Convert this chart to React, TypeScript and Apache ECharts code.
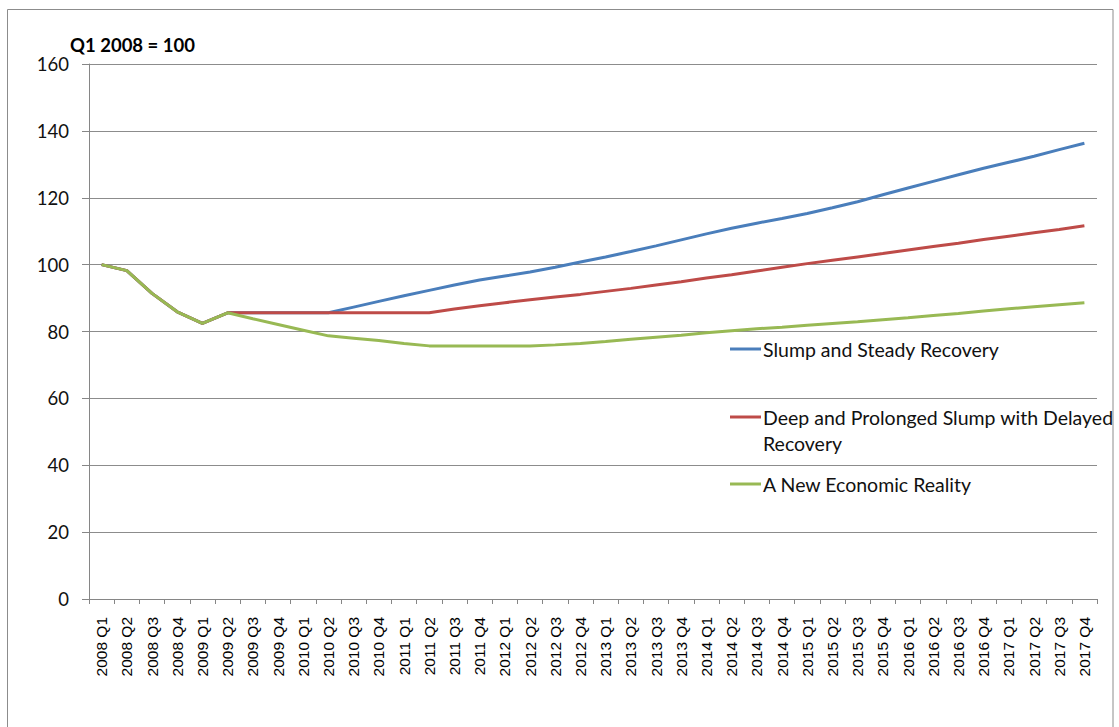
import React, { useEffect, useRef } from "react";
import * as echarts from "echarts";

const categories = [
  "2008 Q1", "2008 Q2", "2008 Q3", "2008 Q4",
  "2009 Q1", "2009 Q2", "2009 Q3", "2009 Q4",
  "2010 Q1", "2010 Q2", "2010 Q3", "2010 Q4",
  "2011 Q1", "2011 Q2", "2011 Q3", "2011 Q4",
  "2012 Q1", "2012 Q2", "2012 Q3", "2012 Q4",
  "2013 Q1", "2013 Q2", "2013 Q3", "2013 Q4",
  "2014 Q1", "2014 Q2", "2014 Q3", "2014 Q4",
  "2015 Q1", "2015 Q2", "2015 Q3", "2015 Q4",
  "2016 Q1", "2016 Q2", "2016 Q3", "2016 Q4",
  "2017 Q1", "2017 Q2", "2017 Q3", "2017 Q4",
];

const slumpSteady = [
  100, 98.2, 91.4, 85.9, 82.4, 85.6, 85.6, 85.6, 85.6, 85.6,
  87.3, 89.0, 90.7, 92.3, 93.9, 95.4, 96.6, 97.8, 99.2, 100.8,
  102.3, 103.9, 105.6, 107.4, 109.2, 110.9, 112.4, 113.8, 115.3, 117.0,
  118.8, 120.9, 122.9, 124.9, 126.9, 128.8, 130.6, 132.4, 134.4, 136.3,
];

const deepProlonged = [
  100, 98.2, 91.4, 85.9, 82.4, 85.6, 85.6, 85.6, 85.6, 85.6,
  85.6, 85.6, 85.6, 85.6, 86.7, 87.7, 88.6, 89.5, 90.3, 91.1,
  92.0, 92.9, 93.9, 94.9, 96.0, 97.0, 98.1, 99.2, 100.3, 101.3,
  102.3, 103.3, 104.4, 105.4, 106.4, 107.5, 108.5, 109.5, 110.5, 111.6,
];

const newReality = [
  100, 98.2, 91.4, 85.9, 82.4, 85.6, 83.8, 82.1, 80.4, 78.7,
  78.0, 77.3, 76.4, 75.7, 75.7, 75.7, 75.7, 75.7, 76.0, 76.4,
  77.0, 77.7, 78.3, 78.9, 79.6, 80.2, 80.8, 81.3, 81.9, 82.4,
  82.9, 83.5, 84.1, 84.8, 85.4, 86.1, 86.8, 87.4, 88.0, 88.6,
];

const seriesNames = [
  "Slump and Steady Recovery",
  "Deep and Prolonged Slump with Delayed Recovery",
  "A New Economic Reality",
];
const legendLines = [
  ["Slump and Steady Recovery"],
  ["Deep and Prolonged Slump with Delayed", "Recovery"],
  ["A New Economic Reality"],
];
const colors = ["#4A7EBB", "#BE4B48", "#98B954"];
const yMin = 0;
const yMax = 160;
const yStep = 20;
const unitLabel = "Q1 2008 = 100";

export default function App() {
  const ref = useRef<HTMLDivElement>(null);

  useEffect(() => {
    if (!ref.current) return;
    const chart = echarts.init(ref.current, null, { renderer: "svg" });
    const legendTops = [349, 417, 484];
    const legendGraphics: any[] = [];
    legendLines.forEach((lines, i) => {
      legendGraphics.push({
        type: "line",
        shape: { x1: 730, y1: legendTops[i], x2: 761, y2: legendTops[i] },
        style: { stroke: colors[i], lineWidth: 3 },
      });
      lines.forEach((t, j) => {
        legendGraphics.push({
          type: "text",
          x: 763,
          y: legendTops[i] + j * 26,
          style: {
            text: t,
            fontFamily: "Lato",
            fontSize: 19.5,
            fill: "#111",
            verticalAlign: "middle",
            align: "left",
          },
        });
      });
    });

    const data = [slumpSteady, deepProlonged, newReality];
    chart.setOption({
      animation: false,
      backgroundColor: "#fff",
      title: {
        text: unitLabel,
        left: 70,
        top: 35,
        padding: 0,
        textStyle: {
          fontFamily: "Lato",
          fontWeight: "bold",
          fontSize: 18.5,
          color: "#000",
        },
      },
      grid: { left: 89, right: 22, top: 64, bottom: 128, containLabel: false },
      xAxis: {
        type: "category",
        data: categories,
        boundaryGap: true,
        axisLine: { lineStyle: { color: "#868686", width: 1 } },
        axisTick: { show: true, interval: 0, length: 5, lineStyle: { color: "#868686" } },
        axisLabel: {
          interval: 0,
          rotate: 90,
          margin: 18,
          fontFamily: "Liberation Sans",
          fontSize: 15.5,
          color: "#000",
        },
      },
      yAxis: {
        type: "value",
        min: yMin,
        max: yMax,
        interval: yStep,
        axisLine: { show: true, lineStyle: { color: "#868686", width: 1 } },
        axisTick: { show: true, length: 7, lineStyle: { color: "#868686" } },
        axisLabel: {
          margin: 20,
          fontFamily: "Lato",
          fontSize: 18.5,
          color: "#111",
        },
        splitLine: { show: true, lineStyle: { color: "#8c8c8c", width: 1 } },
      },
      series: data.map((d, i) => ({
        name: seriesNames[i],
        type: "line",
        data: d,
        showSymbol: false,
        symbol: "none",
        smooth: false,
        lineStyle: { color: colors[i], width: 3 },
        itemStyle: { color: colors[i] },
      })),
      graphic: [
        {
          type: "rect",
          shape: { x: 7.5, y: 9.5, width: 1105.5, height: 740 },
          style: { fill: "none", stroke: "#8c8c8c", lineWidth: 1 },
          silent: true,
        },
        ...legendGraphics,
      ],
    });
    return () => chart.dispose();
  }, []);

  return (
    <div
      ref={ref}
      style={{ position: "fixed", left: 0, top: 0, width: 1119, height: 727 }}
    />
  );
}
